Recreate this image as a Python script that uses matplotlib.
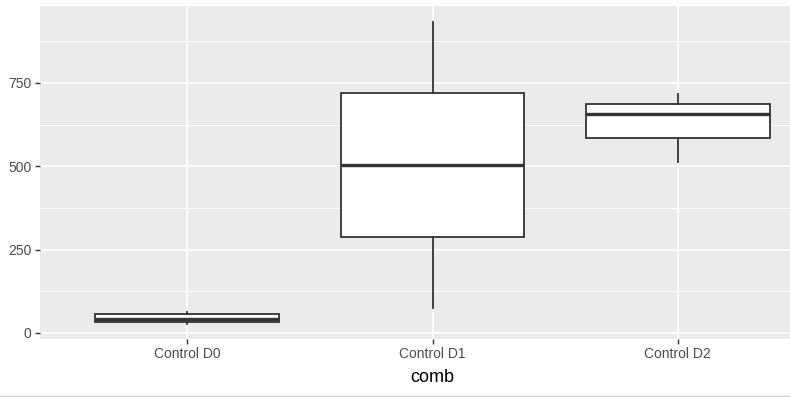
import matplotlib.pyplot as plt
from matplotlib.lines import Line2D

# box statistics
groups = ['Control D0', 'Control D1', 'Control D2']
whislo = [26, 74, 512]
q1 = [33, 289, 586]
med = [43, 505, 658]
q3 = [56, 719, 688]
whishi = [62, 934, 716]

plt.rcParams['font.family'] = ['Liberation Sans', 'DejaVu Sans']

fig = plt.figure(figsize=(7.9, 3.97), dpi=100)
W, H = 790, 397
# panel runs past the right edge of the image, like the reference crop
left, right, top, bottom = 40, 825, 6, 339
ax = fig.add_axes([left / W, 1 - bottom / H, (right - left) / W, (bottom - top) / H])
ax.set_facecolor('#EBEBEB')
for s in ax.spines.values():
    s.set_visible(False)

stats = []
for i in range(len(groups)):
    stats.append(dict(label=groups[i], whislo=whislo[i], q1=q1[i], med=med[i],
                      q3=q3[i], whishi=whishi[i], fliers=[]))

ax.bxp(stats, positions=[1, 2, 3], widths=0.75, patch_artist=True, showcaps=False,
       boxprops=dict(facecolor='white', edgecolor='#333333', linewidth=1.3),
       whiskerprops=dict(color='#333333', linewidth=1.3),
       medianprops=dict(color='#333333', linewidth=2.4),
       zorder=3)

ax.set_xlim(0.4, 3.6)
ax.set_ylim(-18, 981)
ax.set_yticks([0, 250, 500, 750])
ax.set_yticks([125, 375, 625, 875], minor=True)
ax.set_xticks([1, 2, 3])
ax.set_xticklabels(groups)

ax.grid(which='major', color='white', linewidth=1.2, zorder=0)
ax.grid(which='minor', axis='y', color='white', linewidth=0.6, zorder=0)
ax.set_axisbelow(True)

ax.tick_params(which='major', length=3.5, width=1.0, color='#333333',
               labelcolor='#4D4D4D', labelsize=10, pad=2.5)
ax.tick_params(which='minor', length=0)
ax.set_xlabel('comb', fontsize=13, color='black', labelpad=5.5)

# thin grey rule at the bottom of the image
fig.add_artist(Line2D([0, 1], [1 - 395.5 / H, 1 - 395.5 / H], color='#D0D0D0', linewidth=1))

fig.savefig('out.png', dpi=100)
